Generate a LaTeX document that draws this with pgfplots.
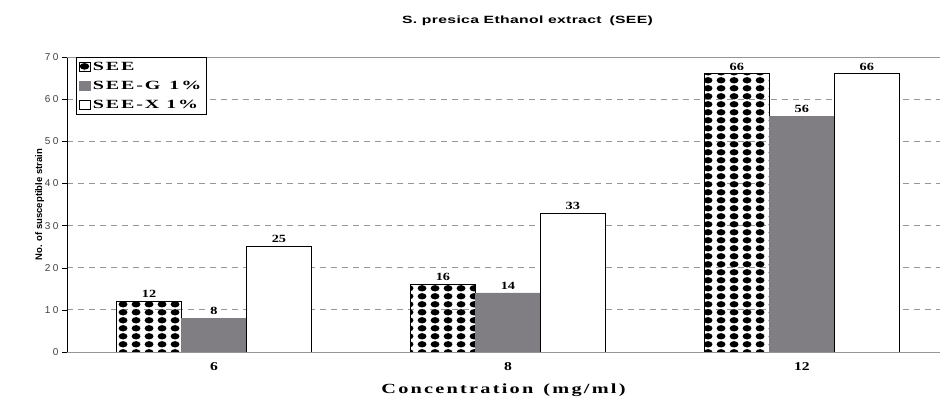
\documentclass[border=0pt]{standalone}
\usepackage{pgfplots}
\pgfplotsset{compat=1.18}
\usepackage{fontspec}
\setmainfont{Liberation Serif}
\newfontfamily\sansf{Liberation Sans}
\newfontfamily\widesans[FakeStretch=1.5, LetterSpace=3]{Liberation Sans}
\newfontfamily\wideserif[FakeStretch=1.6, LetterSpace=15]{Liberation Serif}
\newfontfamily\xlabfont[FakeStretch=1.45, LetterSpace=16]{Liberation Serif}
\newfontfamily\numfont[FakeStretch=1.3]{Liberation Serif}
\usetikzlibrary{patterns}
\definecolor{gbar}{RGB}{128,126,130}
\definecolor{gridc}{RGB}{150,150,150}
\pgfdeclarepatternformonly{seedots}{\pgfpoint{0pt}{0pt}}{\pgfpoint{13pt}{7.7pt}}{\pgfpoint{13pt}{7.7pt}}{%
  \pgfpathellipse{\pgfpoint{6.5pt}{3.85pt}}{\pgfpoint{4.8pt}{0pt}}{\pgfpoint{0pt}{3.3pt}}%
  \pgfusepath{fill}}
\pgfplotstableread{
x see seeg seex
0 12 8 25
1 16 14 33
2 66 56 66
}\datatab
\begin{document}
\begin{tikzpicture}
\useasboundingbox (-67pt,-57pt) rectangle (873pt,352pt);
\begin{axis}[
  at={(0,0)}, anchor=south west,
  scale only axis, width=873pt, height=295pt,
  xmin=-0.5, xmax=2.47, ymin=0, ymax=70,
  /pgf/number format/assume math mode=true,
  ybar, bar width=0.221,
  axis x line*=bottom, axis y line*=left,
  x axis line style={gridc, -}, y axis line style={black, -},
  major tick length=5pt,
  xtick={0,1,2}, xticklabels={6,8,12},
  x tick style={draw=none},
  extra x ticks={0.5,1.5}, extra x tick labels={},
  extra x tick style={tick style={draw=gridc}, tick align=outside, grid=none},
  ytick={0,10,...,70},
  y tick style={black}, ytick align=outside,
  ymajorgrids, grid style={gridc, dash pattern=on 6pt off 5pt, line width=0.8pt},
  x tick label style={font=\numfont\fontsize{12}{12}\selectfont\bfseries, yshift=-2pt},
  y tick label style={font=\sansf\fontsize{10}{10}\selectfont\addfontfeatures{LetterSpace=25}, text=black!75},
  xlabel={Concentration\hspace{10pt}(mg/ml)},
  xlabel style={font=\xlabfont\fontsize{14}{14}\selectfont\bfseries, yshift=4pt},
  ylabel={No. of susceptible strain},
  ylabel style={font=\sansf\fontsize{9.5}{10}\selectfont\bfseries, yshift=-6pt},
  title={S. presica Ethanol extract\hspace{8pt}(SEE)},
  title style={font=\widesans\fontsize{10.5}{10}\selectfont\bfseries, at={(0.5275,1)}, yshift=22pt},
  nodes near coords,
  every node near coord/.append style={font=\numfont\fontsize{11}{11}\selectfont\bfseries, yshift=0pt},
  legend style={at={(0.0103,1)}, anchor=north west, draw=black, line width=0.8pt,
    font=\wideserif\fontsize{12.5}{13}\selectfont\bfseries,
    row sep=5pt, inner xsep=3pt, inner ysep=3pt},
  legend cell align=left,
  legend image code/.code={\draw[#1, line width=0.6pt] (0pt,-4.5pt) rectangle (11pt,4.5pt);},
]
\addplot[bar shift=-0.221, draw=black, line width=0.8pt, pattern=seedots, pattern color=black] table[x=x,y=see]{\datatab};
\addplot[bar shift=0, draw=gbar, fill=gbar] table[x=x,y=seeg]{\datatab};
\addplot[bar shift=0.221, draw=black, line width=0.8pt, fill=white] table[x=x,y=seex]{\datatab};
\legend{SEE, SEE-G\hspace{9pt}1\%, SEE-X 1\%}
\draw[gridc, line width=0.8pt] (rel axis cs:0,1) -- (rel axis cs:1,1);
\end{axis}
\end{tikzpicture}
\end{document}
